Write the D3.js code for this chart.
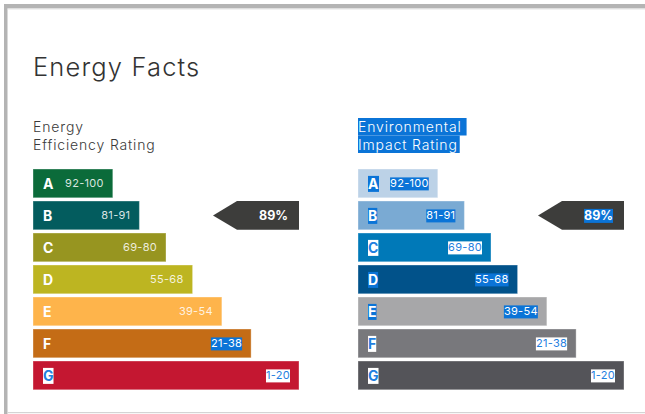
<!DOCTYPE html>
<html lang="en">
<head>
<meta charset="UTF-8">
<title>Energy Facts</title>
<style>
    body { margin: 0; background: #fff; }
    svg text { font-family: Inter, "Open Sans", sans-serif; }
    .title { font-size: 25.5px; font-weight: 300; }
    .sub { font-size: 14px; font-weight: 300; }
    .grade { font-size: 14px; font-weight: 700; }
    .range { font-size: 11px; text-anchor: end; }
    .score { font-size: 12.5px; font-weight: 700; text-anchor: end; }
</style>
</head>
<body>
<script src="https://cdn.jsdelivr.net/npm/d3@7/dist/d3.min.js"></script>
<script>
const grades = ['A', 'B', 'C', 'D', 'E', 'F', 'G'];
const ranges = ['92-100', '81-91', '69-80', '55-68', '39-54', '21-38', '1-20'];
const barLength = [30, 40, 50, 60, 71, 82, 100];
const efficiencyColors = ['#0b6b3a', '#035c5e', '#979520', '#bdb521', '#feb44b', '#c46c16', '#c41731'];
const impactColors = ['#bcd2e7', '#7aaad3', '#0079b8', '#01528a', '#a7a7a9', '#78787c', '#545459'];
const efficiencyScore = 89;
const impactScore = 89;

// the reference shot has text selected in the browser: 'b' = blue highlight, 'w' = white highlight
const efficiencySel = { title: '', grade: ['', '', '', '', '', '', 'w'], range: ['', '', '', '', '', 'b', 'w'], score: '' };
const impactSel = { title: 'b', grade: ['b', 'b', 'w', 'b', 'b', 'w', 'w'], range: ['b', 'b', 'w', 'b', 'b', 'w', 'w'], score: 'b' };

const selBlue = '#0b74d7', selText = '#1f80e0';

let width = 645, height = 414;
let svg = d3.select('body').append('svg')
    .attr('width', width)
    .attr('height', height);

// card frame
svg.append('rect').attr('x', 4).attr('y', 4).attr('width', width).attr('height', 4.5).attr('fill', '#b4b4b4');
svg.append('rect').attr('x', 4).attr('y', 4).attr('width', 3.5).attr('height', height).attr('fill', '#b4b4b4');
svg.append('rect').attr('x', 7.5).attr('y', 8.5).attr('width', width).attr('height', 1).attr('fill', '#e4e4e4');
svg.append('rect').attr('x', 7.5).attr('y', 412).attr('width', width).attr('height', 1.2).attr('fill', '#d4d4d4');

svg.append('text').attr('class', 'title').attr('x', 33).attr('y', 76)
    .attr('fill', '#333').attr('letter-spacing', 1.15).text('Energy Facts');

let x = d3.scaleLinear().domain([0, 100]).range([0, 266]);
let y = d3.scaleBand().domain(grades).range([169, 389.8]).paddingInner(0.1);

function highlight(sel, node) {
    let b = node.getBBox();
    d3.select(node.parentNode).insert('rect', () => node)
        .attr('x', b.x).attr('y', b.y + 1).attr('width', b.width).attr('height', b.height - 1)
        .attr('fill', sel === 'b' ? selBlue : '#fff');
    d3.select(node).attr('fill', sel === 'b' ? '#fff' : selText);
}

function panel(x0, titleLines, colors, score, sel) {
    let g = svg.append('g').attr('transform', `translate(${x0}, 0)`);

    let t = g.append('g');
    titleLines.forEach((s, i) => {
        let txt = t.append('text').attr('class', 'sub')
            .attr('x', 0).attr('y', 132 + i * 17.5)
            .attr('fill', '#3a3a3a').attr('letter-spacing', 0.85)
            .text(s);
        if (sel.title) {
            let b = txt.node().getBBox();
            t.insert('rect', () => txt.node())
                .attr('x', 0).attr('y', 118 + i * 17.5).attr('width', b.width + (i === 0 ? 5 : 2)).attr('height', 17.5)
                .attr('fill', selBlue);
            txt.attr('fill', '#fff');
        }
    });

    let rows = g.selectAll('.row')
        .data(grades)
        .enter()
        .append('g')
        .attr('class', 'row');

    rows.append('rect')
        .attr('x', 0)
        .attr('y', d => y(d))
        .attr('width', (d, i) => x(barLength[i]))
        .attr('height', y.bandwidth())
        .attr('fill', (d, i) => colors[i])
        .attr('stroke', 'rgba(255,255,255,0.35)')
        .attr('stroke-width', 1);

    rows.append('text')
        .attr('class', 'grade')
        .attr('x', 10)
        .attr('y', d => y(d) + y.bandwidth() / 2 + 5.5)
        .attr('fill', '#fff')
        .text(d => d)
        .each(function (d, i) { if (sel.grade[i]) highlight(sel.grade[i], this); });

    rows.append('text')
        .attr('class', 'range')
        .attr('x', (d, i) => x(barLength[i]) - 9)
        .attr('y', d => y(d) + y.bandwidth() / 2 + 4)
        .attr('fill', 'rgba(255,255,255,0.85)')
        .attr('letter-spacing', 0.3)
        .text((d, i) => ranges[i])
        .each(function (d, i) { if (sel.range[i]) highlight(sel.range[i], this); });

    // score arrow sits on the row whose range holds the score
    let idx = ranges.findIndex(r => {
        let [lo, hi] = r.split('-').map(Number);
        return score >= lo && score <= hi;
    });
    let top = y(grades[idx]), h = y.bandwidth(), right = x(100);
    let body = right - 62, tip = body - 24;
    let arrow = g.append('g');
    arrow.append('path')
        .attr('d', `M${tip},${top + h / 2}L${body},${top}L${right},${top}L${right},${top + h}L${body},${top + h}Z`)
        .attr('fill', '#3d3d3b');
    arrow.append('text')
        .attr('class', 'score')
        .attr('x', right - 11)
        .attr('y', top + h / 2 + 4.5)
        .attr('fill', '#fff')
        .text(score + '%')
        .each(function () { if (sel.score) highlight(sel.score, this); });
}

panel(33, ['Energy', 'Efficiency Rating'], efficiencyColors, efficiencyScore, efficiencySel);
panel(358, ['Environmental', 'Impact Rating'], impactColors, impactScore, impactSel);
</script>
</body>
</html>
